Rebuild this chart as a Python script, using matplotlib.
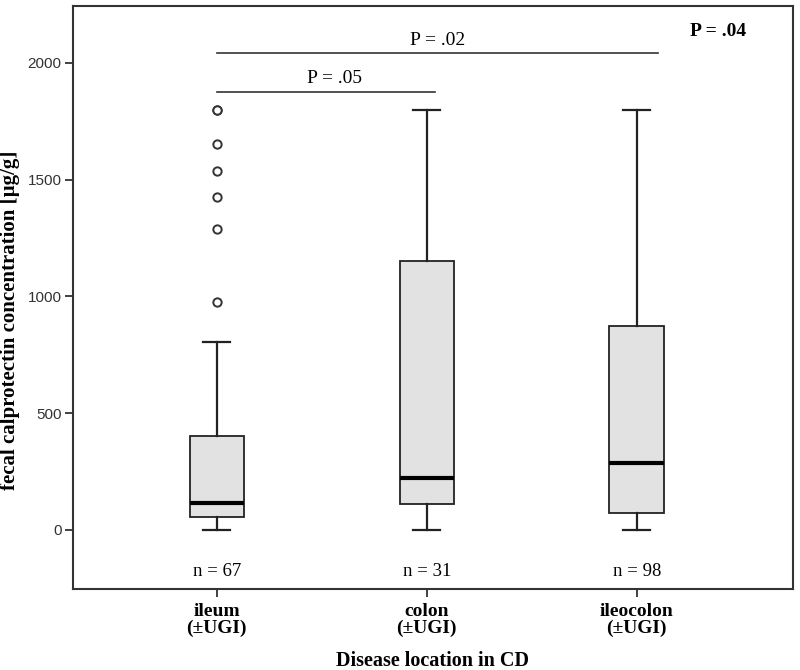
import numpy as np
import matplotlib
matplotlib.use("Agg")
import matplotlib.pyplot as plt

# box statistics (µg/g)
groups = ["ileum\n(\u00b1UGI)", "colon\n(\u00b1UGI)", "ileocolon\n(\u00b1UGI)"]
n_labels = ["n = 67", "n = 31", "n = 98"]
whisker_low = [0, 0, 0]
q1 = [56, 111, 73]
median = [116, 223, 287]
q3 = [403, 1150, 874]
whisker_high = [805, 1800, 1800]
outliers = [[976, 1289, 1427, 1537, 1654, 1800, 1800], [], []]

plt.rcParams["font.family"] = ["Liberation Serif", "DejaVu Serif"]

fig = plt.figure(figsize=(8, 6.7), dpi=100)
ax = fig.add_axes([0.091, 0.121, 0.9, 0.87])

positions = np.arange(1, len(groups) + 1)

stats = []
for i in range(len(groups)):
    stats.append(dict(med=median[i], q1=q1[i], q3=q3[i],
                      whislo=whisker_low[i], whishi=whisker_high[i],
                      fliers=outliers[i]))

ax.bxp(stats, positions=positions, widths=0.26, patch_artist=True,
       capwidths=0.13,
       boxprops=dict(facecolor="#e2e2e2", edgecolor="#222222", linewidth=1.3),
       medianprops=dict(color="black", linewidth=3),
       whiskerprops=dict(color="#222222", linewidth=1.6),
       capprops=dict(color="#222222", linewidth=1.6),
       flierprops=dict(marker="o", markersize=6, markerfacecolor="white",
                       markeredgecolor="#333333", markeredgewidth=1.4))

ax.set_xlim(0.314, 3.743)
ax.set_ylim(-253, 2244)

# significance brackets
ax.plot([1, 2.04], [1876, 1876], color="#333333", linewidth=1.2)
ax.text(1.56, 1935, "P = .05", ha="center", va="center", fontsize=14)
ax.plot([1, 3.1], [2043, 2043], color="#333333", linewidth=1.2)
ax.text(2.05, 2098, "P = .02", ha="center", va="center", fontsize=14)
ax.text(3.386, 2135, "P = .04", ha="center", va="center", fontsize=14,
        fontweight="bold")

for p, lab in zip(positions, n_labels):
    ax.text(p, -180, lab, ha="center", va="center", fontsize=13.5)

ax.set_xticks(positions)
ax.set_xticklabels(groups, fontsize=14, fontweight="bold", linespacing=1.0)
ax.set_yticks([0, 500, 1000, 1500, 2000])
ax.set_yticklabels(["0", "500", "1000", "1500", "2000"],
                   fontsize=11, family=["Liberation Sans Narrow", "Liberation Sans"],
                   color="#333333")
ax.tick_params(axis="both", direction="out", length=6, width=1.3, color="#333333")
ax.tick_params(axis="x", pad=4)
ax.tick_params(axis="y", pad=2)

for sp in ax.spines.values():
    sp.set_linewidth(1.5)
    sp.set_color("#333333")

ax.set_ylabel("fecal calprotectin concentration [\u00b5g/g]", fontsize=15,
              fontweight="bold")
ax.yaxis.set_label_coords(-0.0736, 0.461)
ax.set_xlabel("Disease location in CD", fontsize=14.5, fontweight="bold",
              labelpad=10)

fig.savefig("out.png", dpi=100)
